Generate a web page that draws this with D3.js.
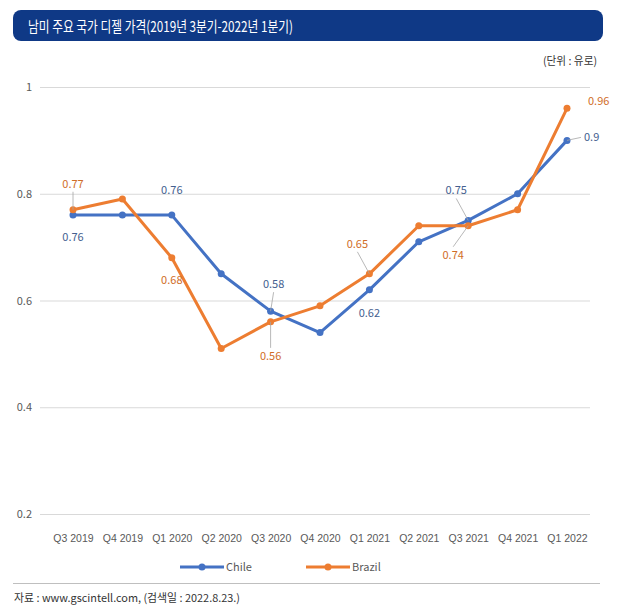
<!DOCTYPE html>
<html><head><meta charset="utf-8">
<script src="https://cdn.jsdelivr.net/npm/d3@7"></script>
<style>
body{margin:0;background:#fff;}
svg{display:block;font-family:"Noto Sans CJK KR","Noto Sans",sans-serif;}
</style></head><body>
<svg id="c" width="631" height="613"></svg>
<script>
const categories = ["Q3 2019","Q4 2019","Q1 2020","Q2 2020","Q3 2020","Q4 2020","Q1 2021","Q2 2021","Q3 2021","Q4 2021","Q1 2022"];
const chile  = [0.76,0.76,0.76,0.65,0.58,0.54,0.62,0.71,0.75,0.80,0.90];
const brazil = [0.77,0.79,0.68,0.51,0.56,0.59,0.65,0.74,0.74,0.77,0.96];
const yTicks = [0.2,0.4,0.6,0.8,1];
const yTickLabels = ["0.2","0.4","0.6","0.8","1"];
// labelled points: [index, dx, dy (label centre offset), leader]
const chileLabels = [[0,0,22,false],[2,0,-25,false],[4,3,-27,true],[6,0,23,false],[8,-12,-30,true],[10,17,-3,true]];
const brazilLabels = [[0,0,-26,true],[2,0,22,false],[4,0,34,true],[6,-12,-30,true],[8,-15,29,true],[10,21,-7,false]];

const svg = d3.select("#c");
// title bar
svg.append("rect").attr("x",13).attr("y",10).attr("width",590).attr("height",31).attr("rx",8).attr("fill","#0f3986");
svg.append("text").attr("x",28).attr("y",31.5).attr("fill","#fff").attr("font-size",15).attr("font-weight",400)
  .attr("textLength",265).attr("lengthAdjust","spacingAndGlyphs")
  .text("남미 주요 국가 디젤 가격(2019년 3분기-2022년 1분기)");
svg.append("text").attr("x",597).attr("y",65).attr("text-anchor","end").attr("fill","#333").attr("font-size",11)
  .attr("textLength",54).attr("lengthAdjust","spacingAndGlyphs").text("(단위 : 유로)");

const x = d3.scalePoint().domain(categories).range([73,567]);
const y = d3.scaleLinear().domain([0.2,1]).range([514,87]);

const yAxis = d3.axisLeft(y).tickValues(yTicks).tickFormat((d,i)=>yTickLabels[i]).tickSize(-550).tickPadding(8);
const gy = svg.append("g").attr("transform","translate(40,0)").call(yAxis);
gy.select(".domain").remove();
gy.selectAll(".tick line").attr("stroke","#d9d9d9").attr("stroke-width",1);
gy.selectAll(".tick text").attr("fill","#595959").attr("font-size",11).attr("font-family","Noto Sans CJK KR");

const xAxis = d3.axisBottom(x).tickSize(0).tickPadding(0);
const gx = svg.append("g").attr("transform","translate(0,539)").call(xAxis);
gx.select(".domain").remove();
gx.selectAll(".tick text").attr("fill","#595959").attr("font-size",10.5).attr("dy","0.32em");

const line = d3.line().x((d,i)=>x(categories[i])).y(d=>y(d));
const series = [{name:"Chile",vals:chile,color:"#4472c4",lab:"#44608f",labels:chileLabels},
                {name:"Brazil",vals:brazil,color:"#ed7d31",lab:"#d06d28",labels:brazilLabels}];
series.forEach(s=>{
  svg.append("path").datum(s.vals).attr("d",line).attr("fill","none").attr("stroke",s.color).attr("stroke-width",3).attr("stroke-linejoin","round");
  svg.selectAll(null).data(s.vals).enter().append("circle")
    .attr("cx",(d,i)=>x(categories[i])).attr("cy",d=>y(d)).attr("r",3.5).attr("fill",s.color);
});
series.forEach(s=>{
  s.labels.forEach(([i,dx,dy,leader])=>{
    const px = x(categories[i]), py = y(s.vals[i]);
    const tx = px+dx, ty = py+dy;
    const side = dx>10;
    if(leader){
      let x2, y2;
      if(side){ x2 = tx-3; y2 = ty; }
      else { x2 = tx; y2 = dy<0 ? ty+8 : ty-8; }
      svg.append("line").attr("x1",px).attr("y1",py).attr("x2",x2).attr("y2",y2).attr("stroke","#a6a6a6").attr("stroke-width",0.8);
    }
    svg.append("text").attr("x",tx).attr("y",ty).attr("text-anchor",side?"start":"middle").attr("dy","0.35em")
      .attr("fill",s.lab).attr("font-size",11).text(d3.format(".2~f")(s.vals[i]));
  });
});

// legend
const legend = [{name:"Chile",color:"#4472c4",x0:180},{name:"Brazil",color:"#ed7d31",x0:306}];
legend.forEach(l=>{
  svg.append("line").attr("x1",l.x0).attr("x2",l.x0+44).attr("y1",567).attr("y2",567).attr("stroke",l.color).attr("stroke-width",3);
  svg.append("circle").attr("cx",l.x0+22).attr("cy",567).attr("r",3.5).attr("fill",l.color);
  svg.append("text").attr("x",l.x0+46).attr("y",571).attr("fill","#595959").attr("font-size",11).text(l.name);
});
svg.append("line").attr("x1",13).attr("x2",600).attr("y1",583.5).attr("y2",583.5).attr("stroke","#bfbfbf").attr("stroke-width",1);
svg.append("text").attr("x",14).attr("y",602).attr("fill","#333").attr("font-size",11)
  .attr("textLength",226).attr("lengthAdjust","spacingAndGlyphs").text("자료 : www.gscintell.com, (검색일 : 2022.8.23.)");
</script></body></html>
